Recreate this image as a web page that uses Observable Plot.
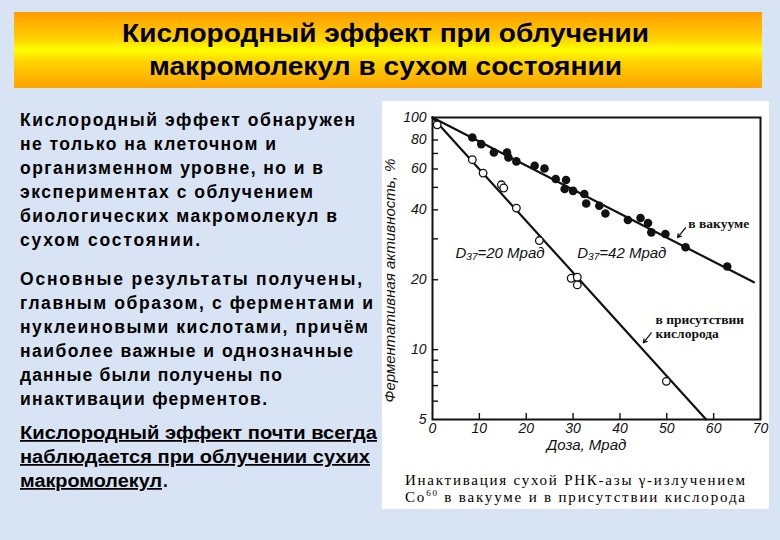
<!DOCTYPE html>
<html><head><meta charset="utf-8">
<script src="https://cdn.jsdelivr.net/npm/d3@7"></script>
<script src="https://cdn.jsdelivr.net/npm/@observablehq/plot@0.6"></script>
<style>
html,body{margin:0;padding:0;}
body{width:780px;height:540px;background:#d8e4f3;position:relative;overflow:hidden;}
#banner{position:absolute;left:14px;top:12px;width:748px;height:76px;background:linear-gradient(#ff9c00 0%,#ffd000 35%,#ffff00 50%,#ffd400 65%,#ffa200 100%);}
#card{position:absolute;left:382px;top:101px;width:387px;height:408px;background:#fff;}
#chart{position:absolute;left:381px;top:101px;}
#overlay{position:absolute;left:0;top:0;pointer-events:none;}
</style></head><body>
<div id="banner"></div>
<div id="card"></div>
<div id="chart"></div>
<svg id="overlay" width="780" height="540" xmlns="http://www.w3.org/2000/svg"></svg>
<script>
// ---- data ----
const titleLines = ["Кислородный эффект при облучении", "макромолекул в сухом состоянии"];
const para1 = ["Кислородный эффект обнаружен", "не только на клеточном и", "организменном уровне, но и в", "экспериментах с облучением", "биологических макромолекул в", "сухом состоянии."];
const para2 = ["Основные результаты получены,", "главным образом, с ферментами и", "нуклеиновыми кислотами, причём", "наиболее важные и однозначные", "данные были получены по", "инактивации ферментов."];
const para3 = ["Кислородный эффект почти всегда", "наблюдается при облучении сухих", "макромолекул"];
const captionLines = ["Инактивация сухой РНК-азы γ-излучением", "в вакууме и в присутствии кислорода"];

const doseTicks = [0, 10, 20, 30, 40, 50, 60, 70];
const activityTicks = [5, 10, 20, 40, 60, 80, 100];
const activityMinor = [6, 7, 8, 9, 30, 50, 70];

const vacuumDose = [8.5, 10.4, 13.1, 15.9, 16.2, 17.9, 21.8, 23.9, 26.3, 28.5, 28.2, 30.0, 32.4, 32.8, 35.6, 36.9, 41.7, 44.4, 46.0, 46.7, 49.7, 54.0, 62.9];
const vacuumActivity = [82.0, 76.8, 70.7, 70.7, 67.3, 64.7, 62.0, 60.3, 54.3, 53.8, 49.2, 48.3, 46.8, 42.6, 41.7, 38.6, 36.2, 36.9, 35.1, 32.0, 31.5, 27.6, 22.8];
const oxygenDose = [1.0, 8.5, 10.8, 14.7, 15.2, 17.9, 22.8, 29.6, 30.9, 30.9, 49.9];
const oxygenActivity = [93.0, 65.8, 57.6, 51.3, 49.7, 40.7, 29.5, 20.3, 20.5, 19.0, 7.3];

const vacuumFitDose = [0, 68.6];
const vacuumFitActivity = [100, 19.5];
const oxygenFitDose = [0, 58.4];
const oxygenFitActivity = [100, 5];

const yLabel = "Ферментативная активность, %";
const xLabel = "Доза, Мрад";
const annotations = [
  {x: 4.9, y: 26.1, text: "D₃₇=20 Мрад"},
  {x: 30.9, y: 26.1, text: "D₃₇=42 Мрад"}
];
const curveLabels = [
  {x: 54.6, y: 34.9, text: "в вакууме"},
  {x: 47.6, y: 12.6, text: "в присутствии\nкислорода"}
];
const pointers = [
  {x1: 54.0, y1: 33.5, x2: 52.3, y2: 30.4},
  {x1: 46.7, y1: 11.8, x2: 45.0, y2: 10.7}
];

// ---- chart ----
const W = 388, H = 360, ML = 51, MR = 9, MT = 16, MB = 42;
const FW = W - ML - MR, FH = H - MT - MB;
const vacuum = vacuumDose.map((d, i) => ({dose: d, act: vacuumActivity[i]}));
const oxygen = oxygenDose.map((d, i) => ({dose: d, act: oxygenActivity[i]}));
const vacFit = vacuumFitDose.map((d, i) => ({dose: d, act: vacuumFitActivity[i]}));
const oxyFit = oxygenFitDose.map((d, i) => ({dose: d, act: oxygenFitActivity[i]}));
const font = "'Liberation Sans Narrow', 'Liberation Sans', sans-serif";

const chart = Plot.plot({
  width: W, height: H,
  marginLeft: ML, marginRight: MR, marginTop: MT, marginBottom: MB,
  style: {fontFamily: font, fontSize: "14px", background: "transparent", color: "#111", overflow: "visible"},
  x: {domain: [0, 70], axis: null},
  y: {type: "log", domain: [5, 100], axis: null},
  marks: [
    Plot.tickY(activityMinor.concat(activityTicks.slice(1, -1)), {y: d => d, insetRight: FW - 6, strokeWidth: 1.4, stroke: "#111"}),
    Plot.tickX(doseTicks.slice(1, -1), {x: d => d, insetTop: FH - 6, strokeWidth: 1.4, stroke: "#111"}),
    Plot.text(activityTicks, {y: d => d, text: d => String(d), frameAnchor: "left", textAnchor: "end", dx: -6, fontStyle: "italic", fontSize: 14, fill: "#111"}),
    Plot.text(doseTicks, {x: d => d, text: d => String(d), frameAnchor: "bottom", lineAnchor: "top", dy: 4, fontStyle: "italic", fontSize: 14, fill: "#111"}),
    Plot.frame({stroke: "#111", strokeWidth: 2}),
    Plot.line(vacFit, {x: "dose", y: "act", stroke: "#111", strokeWidth: 2.2}),
    Plot.line(oxyFit, {x: "dose", y: "act", stroke: "#111", strokeWidth: 2.2}),
    Plot.dot(vacuum, {x: "dose", y: "act", r: 4.3, fill: "#111", stroke: "none"}),
    Plot.dot(oxygen, {x: "dose", y: "act", r: 3.8, fill: "white", stroke: "#111", strokeWidth: 1.3}),
    Plot.text(annotations, {x: "x", y: "y", text: "text", textAnchor: "start", fontStyle: "italic", fontSize: 15, fill: "#111"}),
    Plot.text(curveLabels, {x: "x", y: "y", text: "text", textAnchor: "start", fontFamily: "'Liberation Serif', serif", fontWeight: "bold", fontSize: 13.5, lineHeight: 1.05, fill: "#111"}),
    Plot.arrow(pointers, {x1: "x1", y1: "y1", x2: "x2", y2: "y2", stroke: "#111", strokeWidth: 1.2, headLength: 5}),
    Plot.text([yLabel], {frameAnchor: "bottom-left", textAnchor: "start", rotate: -90, dx: -38, dy: -17, fontStyle: "italic", fontSize: 15, fill: "#111", ariaLabel: "ylabel"}),
    Plot.text([xLabel], {frameAnchor: "bottom", dx: -10, dy: 30, fontStyle: "italic", fontSize: 15, fill: "#111"})
  ]
});
document.getElementById("chart").appendChild(chart);
d3.select(chart).selectAll("g[aria-label='ylabel'] text").attr("textLength", 282).attr("lengthAdjust", "spacing");

// ---- slide text ----
const ov = d3.select("#overlay");
function addLine(str, x, y, len, opts) {
  const t = ov.append("text").attr("x", x).attr("y", y)
    .attr("font-family", opts.family).attr("font-size", opts.size)
    .attr("font-weight", opts.weight || "normal").attr("fill", "#000")
    .attr("textLength", len).attr("lengthAdjust", opts.adjust || "spacing");
  if (opts.underline) t.attr("text-decoration", "underline");
  t.text(str);
  return t;
}
const titleX = [122, 149], titleW = [527, 473], titleY = [42, 75];
titleLines.forEach((s, i) => addLine(s, titleX[i], titleY[i], titleW[i], {family: "'Liberation Sans Narrow', 'Liberation Sans', Arial, sans-serif", size: 25, weight: "bold", adjust: "spacingAndGlyphs"}));

const sans = "'Liberation Sans', Arial, sans-serif";
const p1W = [335, 256, 303, 293, 317, 180];
para1.forEach((s, i) => addLine(s, 20, 126 + i * 24, p1W[i], {family: sans, size: 17.5, weight: "bold"}));
const p2W = [342, 353, 348, 333, 262, 247];
para2.forEach((s, i) => addLine(s, 20, 285 + i * 24, p2W[i], {family: sans, size: 17.5, weight: "bold"}));
const p3W = [357, 350, 142];
para3.forEach((s, i) => {
  addLine(s, 20, 439 + i * 24, p3W[i], {family: sans, size: 17.5, weight: "bold", underline: true, adjust: "spacingAndGlyphs"});
  if (i === para3.length - 1) {
    ov.append("text").attr("x", 20 + p3W[i] + 1).attr("y", 439 + i * 24).attr("font-family", sans).attr("font-size", 17.5).attr("font-weight", "bold").text(".");
  }
});

const serif = "'Liberation Serif', 'DejaVu Serif', serif";
addLine(captionLines[0], 405, 485, 340, {family: serif, size: 15});
const c2 = ov.append("text").attr("x", 405).attr("y", 502).attr("font-family", serif).attr("font-size", 15).attr("fill", "#000").attr("textLength", 340);
c2.append("tspan").text("Co");
c2.append("tspan").attr("font-size", 9).attr("dy", -6).text("60");
c2.append("tspan").attr("dy", 6).text(" " + captionLines[1]);
</script>
</body></html>
